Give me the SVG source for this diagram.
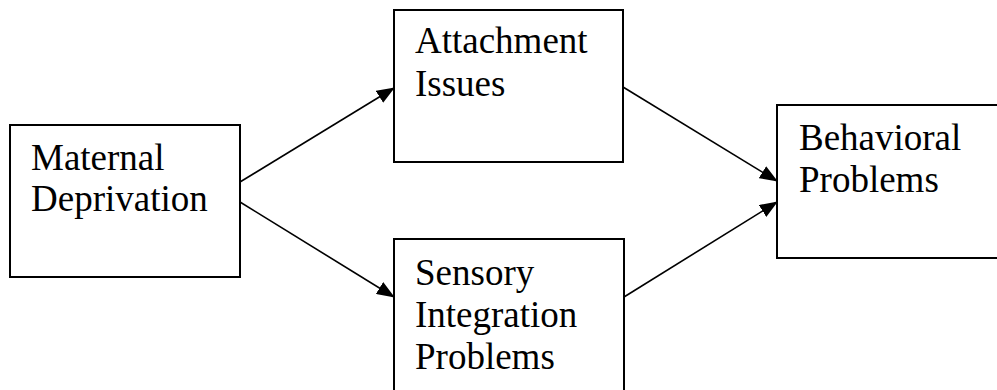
<svg xmlns="http://www.w3.org/2000/svg" width="997" height="390" viewBox="0 0 997 390">
  <style>
    .box { fill: #ffffff; stroke: #000000; stroke-width: 2; }
    .label { font-family: "Liberation Serif", "Times New Roman", serif; font-size: 37px; fill: #000000; }
    .edge { fill: none; stroke: #000000; stroke-width: 1.6; marker-end: url(#arrow); }
  </style>
  <defs>
    <marker id="arrow" markerUnits="userSpaceOnUse" markerWidth="18" markerHeight="14" refX="17" refY="7" orient="auto">
      <path d="M0,0 L18,7 L0,14 Z" fill="#000000"/>
    </marker>
  </defs>
  <rect x="0" y="0" width="997" height="390" fill="#ffffff"/>

  <g id="maternal-deprivation">
    <rect class="box" x="10" y="125" width="230" height="152"/>
    <text class="label" x="31" y="170">Maternal</text>
    <text class="label" x="31" y="211">Deprivation</text>
  </g>

  <g id="attachment-issues">
    <rect class="box" x="394" y="10" width="229" height="152"/>
    <text class="label" x="415" y="53">Attachment</text>
    <text class="label" x="415" y="96">Issues</text>
  </g>

  <g id="sensory-integration-problems">
    <rect class="box" x="394" y="239" width="230" height="160"/>
    <text class="label" x="415" y="285">Sensory</text>
    <text class="label" x="415" y="327">Integration</text>
    <text class="label" x="415" y="369">Problems</text>
  </g>

  <g id="behavioral-problems">
    <rect class="box" x="777" y="105" width="240" height="153"/>
    <text class="label" x="799" y="150">Behavioral</text>
    <text class="label" x="799" y="192">Problems</text>
  </g>

  <g id="connectors">
    <line class="edge" x1="240" y1="182" x2="394" y2="88"/>
    <line class="edge" x1="240" y1="202" x2="394" y2="297"/>
    <line class="edge" x1="623" y1="87" x2="777" y2="181"/>
    <line class="edge" x1="624" y1="297" x2="777" y2="202"/>
  </g>
</svg>
